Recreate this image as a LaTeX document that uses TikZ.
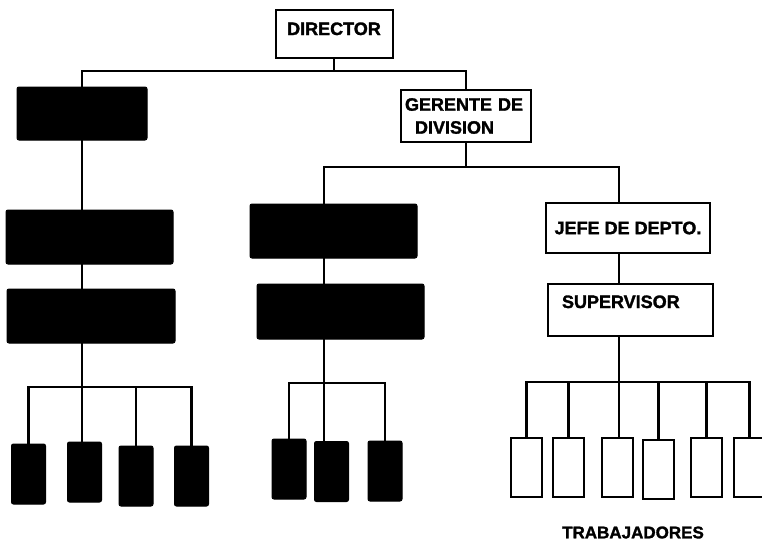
\documentclass[tikz,border=0pt]{standalone}
\usepackage{fontspec}
\setmainfont{Liberation Sans}
\newfontfamily\heavy{Liberation Sans Bold}[FakeBold=1.6]
\begin{document}
\begin{tikzpicture}[x=1pt,y=-1pt,
  con/.style={line width=2.2pt},
  blk/.style={fill=black,draw=black,line width=1pt,rounded corners=2pt,inner sep=0pt,outer sep=0pt},
  wbox/.style={draw=black,fill=white,line width=2pt,inner sep=0pt,outer sep=0pt,font=\heavy\fontsize{18}{23}\selectfont},
  bsmall/.style={blk,minimum width=34pt,minimum height=60pt},
  wsmall/.style={draw=black,fill=white,line width=2pt,inner sep=0pt,outer sep=0pt,minimum width=31pt,minimum height=59pt}
  ]
\useasboundingbox (0,0) rectangle (762,541);
% main boxes
\node[wbox,minimum width=117pt,minimum height=48pt,text height=13pt,text depth=11pt] (dir) at (334,34) {DIRECTOR};
\node[blk,minimum width=130pt,minimum height=53pt] (l1) at (82,113.5) {};
\node[wbox,minimum width=130pt,minimum height=52pt,align=left,text width=122pt] (ger) at (466,116) {GERENTE DE\\\hspace*{10pt}DIVISION};
\node[blk,minimum width=167pt,minimum height=54pt] (l2) at (89.5,237) {};
\node[blk,minimum width=168pt,minimum height=54pt] (l3) at (91,316) {};
\node[blk,minimum width=167pt,minimum height=54pt] (m1) at (333.5,231) {};
\node[blk,minimum width=167pt,minimum height=55pt] (m2) at (340.5,311.5) {};
\node[wbox,minimum width=164pt,minimum height=50pt] (jefe) at (628,228) {JEFE DE DEPTO.};
\node[wbox,minimum width=165pt,minimum height=52pt,align=left,text width=137pt,text height=13pt,text depth=17pt] (sup) at (630.5,310) {SUPERVISOR};
% bottom boxes
\node[bsmall] (lb1) at (28.5,474) {};
\node[bsmall] (lb2) at (84.5,472) {};
\node[bsmall] (lb3) at (136,476) {};
\node[bsmall] (lb4) at (191.5,476) {};
\node[bsmall] (mb1) at (289,469) {};
\node[bsmall] (mb2) at (331.5,471.5) {};
\node[bsmall] (mb3) at (385,471) {};
\node[wsmall] (rb1) at (526.5,467.5) {};
\node[wsmall] (rb2) at (568.5,467.5) {};
\node[wsmall] (rb3) at (617.5,467.5) {};
\node[wsmall] (rb4) at (658.5,469.5) {};
\node[wsmall] (rb5) at (706.5,467.5) {};
\node[wsmall] (rb6) at (749.5,467.5) {};
\node[font=\heavy\fontsize{17}{20}\selectfont,inner sep=0pt] (trab) at (633,532.5) {TRABAJADORES};
% connectors: top
\coordinate (b0) at (334,71);
\draw[con] (dir.south) -- (b0);
\draw[con] (l1.north) |- (b0) -| (ger.north);
% left column
\draw[con] (l1.south) -- (l1.south |- l2.north);
\draw[con] (l1.south |- l2.south) -- (l1.south |- l3.north);
\coordinate (bL) at (82,387);
\draw[con] (l1.south |- l3.south) -- (bL);
\draw[con] (lb1.north) |- (bL) -| (lb4.north);
\draw[con] (bL) -- (bL |- lb2.north);
\draw[con] (bL -| lb3.north) -- (lb3.north);
% gerente branch
\coordinate (b1) at (466,167);
\coordinate (mt) at (324,167);
\coordinate (rt) at (619,167);
\draw[con] (ger.south) -- (b1);
\draw[con] (mt |- m1.north) -- (mt) -- (rt) -- (rt |- jefe.north);
\draw[con] (mt |- m1.south) -- (mt |- m2.north);
\coordinate (bM) at (324,383);
\draw[con] (mt |- m2.south) -- (bM);
\draw[con] (mb1.north) |- (bM) -| (mb3.north);
\draw[con] (bM) -- (bM |- mb2.north);
% right column
\draw[con] (rt |- jefe.south) -- (rt |- sup.north);
\coordinate (bR) at (619,382);
\draw[con] (rt |- sup.south) -- (bR);
\draw[con] (rb1.north) |- (bR) -| (rb6.north);
\draw[con] (bR -| rb2.north) -- (rb2.north);
\draw[con] (bR) -- (bR |- rb3.north);
\draw[con] (bR -| rb4.north) -- (rb4.north);
\draw[con] (bR -| rb5.north) -- (rb5.north);
\end{tikzpicture}
\end{document}
